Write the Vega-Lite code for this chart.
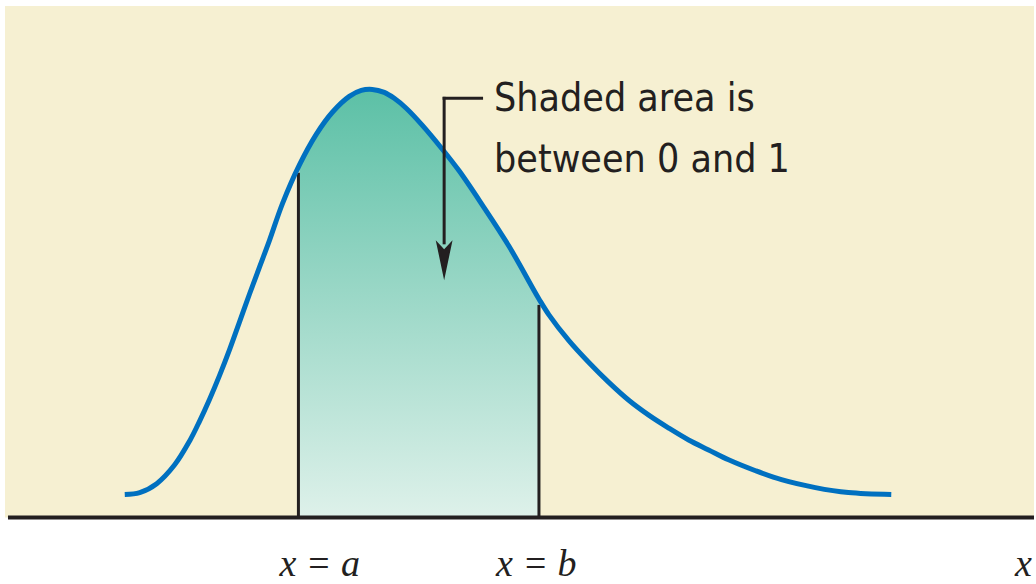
{
  "$schema": "https://vega.github.io/schema/vega-lite/v6.json",
  "width": 1036,
  "height": 584,
  "autosize": {"type": "fit", "contains": "padding"},
  "padding": 0,
  "background": "white",
  "config": {"view": {"stroke": null}},
  "datasets": {
    "curve": [
      {"x": 1.25, "y": 0.23}, {"x": 1.40, "y": 0.25}, {"x": 1.57, "y": 0.34}, {"x": 1.75, "y": 0.53},
      {"x": 1.90, "y": 0.77}, {"x": 2.00, "y": 0.97}, {"x": 2.10, "y": 1.19}, {"x": 2.20, "y": 1.43},
      {"x": 2.30, "y": 1.69}, {"x": 2.40, "y": 1.97}, {"x": 2.50, "y": 2.25}, {"x": 2.60, "y": 2.52},
      {"x": 2.70, "y": 2.79}, {"x": 2.83, "y": 3.16}, {"x": 3.00, "y": 3.55}, {"x": 3.17, "y": 3.86},
      {"x": 3.33, "y": 4.08}, {"x": 3.50, "y": 4.24}, {"x": 3.62, "y": 4.30}, {"x": 3.73, "y": 4.31},
      {"x": 3.85, "y": 4.28}, {"x": 3.95, "y": 4.22}, {"x": 4.07, "y": 4.12}, {"x": 4.23, "y": 3.95},
      {"x": 4.43, "y": 3.71}, {"x": 4.60, "y": 3.49}, {"x": 4.83, "y": 3.15}, {"x": 5.10, "y": 2.73},
      {"x": 5.40, "y": 2.20}, {"x": 5.50, "y": 2.04}, {"x": 5.70, "y": 1.78}, {"x": 5.90, "y": 1.56},
      {"x": 6.10, "y": 1.36}, {"x": 6.30, "y": 1.18}, {"x": 6.50, "y": 1.03}, {"x": 6.70, "y": 0.90},
      {"x": 6.90, "y": 0.78}, {"x": 7.10, "y": 0.68}, {"x": 7.30, "y": 0.58}, {"x": 7.57, "y": 0.47},
      {"x": 7.83, "y": 0.38}, {"x": 8.17, "y": 0.30}, {"x": 8.50, "y": 0.25}, {"x": 8.93, "y": 0.23}
    ],
    "bounds": [
      {"name": "a", "x": 2.99, "top": 3.47},
      {"name": "b", "x": 5.40, "top": 2.14}
    ],
    "labels": [
      {"text": "x = a", "x": 2.80},
      {"text": "x = b", "x": 4.97},
      {"text": "x", "x": 10.17}
    ],
    "note": [
      {"text": "Shaded area is", "x": 4.95, "y": 4.09},
      {"text": "between 0 and 1", "x": 4.95, "y": 3.48}
    ]
  },
  "layer": [
    {
      "data": {"values": [{}]},
      "mark": {"type": "rect", "color": "#f6f0d2"},
      "encoding": {
        "x": {"datum": 0.05, "type": "quantitative", "scale": {"domain": [0, 10.36], "nice": false, "zero": false}, "axis": null},
        "x2": {"datum": 10.36},
        "y": {"datum": 5.15, "type": "quantitative", "scale": {"domain": [-0.63, 5.21], "nice": false, "zero": false}, "axis": null},
        "y2": {"datum": 0}
      }
    },
    {
      "data": {"name": "curve"},
      "transform": [{"filter": "datum.x >= 3.0 && datum.x <= 5.4"}],
      "mark": {
        "type": "area",
        "interpolate": "catmull-rom",
        "color": {
          "gradient": "linear", "x1": 0, "y1": 0, "x2": 0, "y2": 1,
          "stops": [{"offset": 0, "color": "#5cc0a6"}, {"offset": 1, "color": "#def1ea"}]
        }
      },
      "encoding": {
        "x": {"field": "x", "type": "quantitative", "scale": {"domain": [0, 10.36], "nice": false, "zero": false}, "axis": null},
        "y": {"field": "y", "type": "quantitative", "scale": {"domain": [-0.63, 5.21], "nice": false, "zero": false}, "axis": null},
        "y2": {"datum": 0}
      }
    },
    {
      "data": {"name": "bounds"},
      "mark": {"type": "rule", "color": "#231f20", "strokeWidth": 3},
      "encoding": {
        "x": {"field": "x", "type": "quantitative", "scale": {"domain": [0, 10.36], "nice": false, "zero": false}, "axis": null},
        "y": {"field": "top", "type": "quantitative", "scale": {"domain": [-0.63, 5.21], "nice": false, "zero": false}, "axis": null},
        "y2": {"datum": 0}
      }
    },
    {
      "data": {"name": "curve"},
      "mark": {"type": "line", "interpolate": "catmull-rom", "color": "#0070c0", "strokeWidth": 5, "strokeCap": "butt"},
      "encoding": {
        "x": {"field": "x", "type": "quantitative", "scale": {"domain": [0, 10.36], "nice": false, "zero": false}, "axis": null},
        "y": {"field": "y", "type": "quantitative", "scale": {"domain": [-0.63, 5.21], "nice": false, "zero": false}, "axis": null}
      }
    },
    {
      "data": {"values": [{}]},
      "mark": {"type": "rule", "color": "#231f20", "strokeWidth": 4},
      "encoding": {
        "x": {"datum": 0.08, "type": "quantitative", "scale": {"domain": [0, 10.36], "nice": false, "zero": false}, "axis": null},
        "x2": {"datum": 10.36},
        "y": {"datum": 0, "type": "quantitative", "scale": {"domain": [-0.63, 5.21], "nice": false, "zero": false}, "axis": null}
      }
    },
    {
      "data": {"values": [{}]},
      "mark": {"type": "rule", "color": "#231f20", "strokeWidth": 3},
      "encoding": {
        "x": {"datum": 4.435, "type": "quantitative", "scale": {"domain": [0, 10.36], "nice": false, "zero": false}, "axis": null},
        "x2": {"datum": 4.84},
        "y": {"datum": 4.22, "type": "quantitative", "scale": {"domain": [-0.63, 5.21], "nice": false, "zero": false}, "axis": null}
      }
    },
    {
      "data": {"values": [{}]},
      "mark": {"type": "rule", "color": "#231f20", "strokeWidth": 3},
      "encoding": {
        "x": {"datum": 4.45, "type": "quantitative", "scale": {"domain": [0, 10.36], "nice": false, "zero": false}, "axis": null},
        "y": {"datum": 4.235, "type": "quantitative", "scale": {"domain": [-0.63, 5.21], "nice": false, "zero": false}, "axis": null},
        "y2": {"datum": 2.75}
      }
    },
    {
      "data": {"values": [{}]},
      "mark": {"type": "point", "shape": "M-0.42,-1L0,1L0.42,-1L0,-0.55Z", "filled": true, "color": "#231f20", "size": 1600, "opacity": 1},
      "encoding": {
        "x": {"datum": 4.45, "type": "quantitative", "scale": {"domain": [0, 10.36], "nice": false, "zero": false}, "axis": null},
        "y": {"datum": 2.59, "type": "quantitative", "scale": {"domain": [-0.63, 5.21], "nice": false, "zero": false}, "axis": null}
      }
    },
    {
      "data": {"name": "note"},
      "mark": {"type": "text", "align": "left", "baseline": "alphabetic", "font": "Liberation Sans Narrow, DejaVu Sans Condensed, Roboto, sans-serif", "fontSize": 39, "color": "#231f20"},
      "encoding": {
        "x": {"field": "x", "type": "quantitative", "scale": {"domain": [0, 10.36], "nice": false, "zero": false}, "axis": null},
        "y": {"field": "y", "type": "quantitative", "scale": {"domain": [-0.63, 5.21], "nice": false, "zero": false}, "axis": null},
        "text": {"field": "text"}
      }
    },
    {
      "data": {"name": "labels"},
      "mark": {"type": "text", "align": "left", "baseline": "alphabetic", "font": "Liberation Serif, DejaVu Serif, serif", "fontStyle": "italic", "fontSize": 38, "color": "#231f20"},
      "encoding": {
        "x": {"field": "x", "type": "quantitative", "scale": {"domain": [0, 10.36], "nice": false, "zero": false}, "axis": null},
        "y": {"datum": -0.59, "type": "quantitative", "scale": {"domain": [-0.63, 5.21], "nice": false, "zero": false}, "axis": null},
        "text": {"field": "text"}
      }
    }
  ]
}
